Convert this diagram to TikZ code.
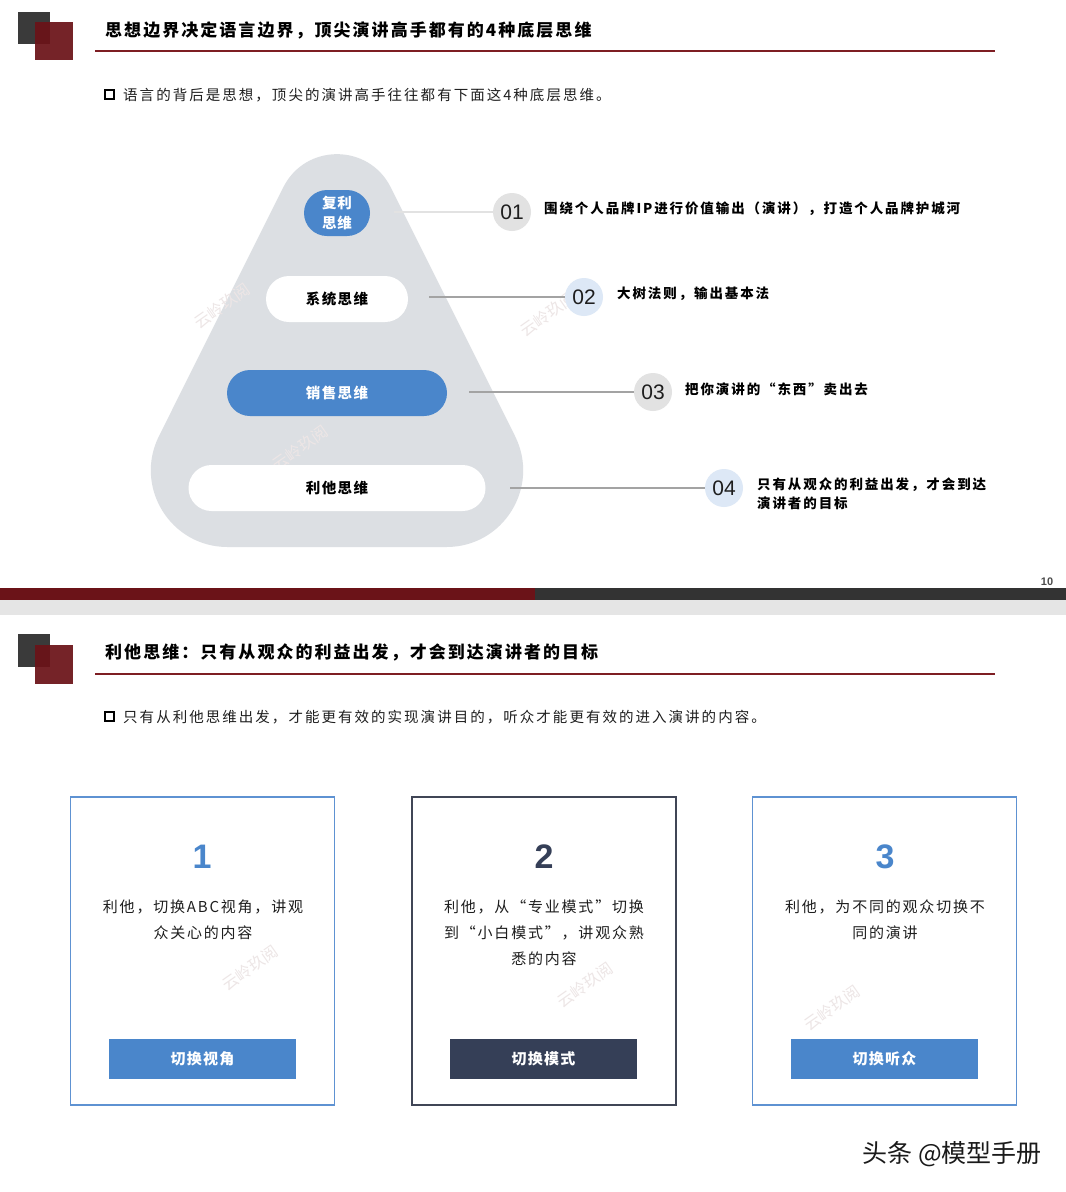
\documentclass[tikz,border=0pt]{standalone}
\usepackage{fontspec}
\setmainfont{Noto Sans CJK SC}
\newfontfamily\arial{Liberation Sans}
\definecolor{dgrey}{HTML}{3A3A3A}
\definecolor{dred}{HTML}{6B1318}
\definecolor{lred}{HTML}{7E1E23}
\definecolor{pyr}{HTML}{DCDFE3}
\definecolor{bblue}{HTML}{4A86CB}
\definecolor{navy}{HTML}{353F57}
\definecolor{lgcirc}{HTML}{E2E2E2}
\definecolor{lbcirc}{HTML}{DDE8F6}
\definecolor{conn}{HTML}{A3A3A3}
\definecolor{txt}{HTML}{1E1E1E}
\definecolor{wm}{HTML}{EDE6E6}
\definecolor{barg}{HTML}{333333}
\definecolor{band}{HTML}{E5E5E5}
\definecolor{cblue}{HTML}{5E92D2}
\definecolor{cdark}{HTML}{404656}
\definecolor{ftc}{HTML}{1A1A1A}
\tikzset{
  titletext/.style={anchor=west, inner sep=0pt, text=black,
    font=\fontsize{17}{20}\selectfont\bfseries\addfontfeatures{LetterSpace=12}},
  subtext/.style={anchor=west, inner sep=0pt, text=txt,
    font=\fontsize{14.5}{17}\selectfont\addfontfeatures{LetterSpace=14}},
  pillbox/.style={rectangle, rounded corners=23, minimum height=46, inner sep=0pt,
    font=\fontsize{14.5}{18}\selectfont\bfseries\addfontfeatures{LetterSpace=10}},
  numcirc/.style={circle, minimum size=38, inner sep=0pt,
    font=\arial\fontsize{21}{21}\selectfont, text=txt},
  itemtext/.style={anchor=west, inner sep=0pt, text=black, align=left,
    font=\fontsize{13.5}{19}\selectfont\bfseries\addfontfeatures{LetterSpace=14}},
  conline/.style={draw=conn, line width=1.2pt},
  card/.style={rectangle, minimum width=264, minimum height=308, line width=1.2pt},
  cardnum/.style={inner sep=0pt, font=\arial\bfseries\fontsize{34}{34}\selectfont},
  cardtext/.style={inner sep=0pt, align=center, text=txt,
    font=\fontsize{15}{26}\selectfont\addfontfeatures{LetterSpace=12}},
  btn/.style={rectangle, minimum width=187, minimum height=40, inner sep=0pt, text=white,
    font=\fontsize{15}{18}\selectfont\bfseries\addfontfeatures{LetterSpace=8}},
  wmark/.style={inner sep=0pt, text=wm, rotate=35, font=\fontsize{16}{16}\selectfont}
}
\begin{document}
\begin{tikzpicture}[x=1pt,y=-1pt]
\useasboundingbox (0,0) rectangle (1066,1192);
\fill[white] (0,0) rectangle (1066,1192);

% ---------- top slide header ----------
\fill[dgrey] (18,12) rectangle (50,44);
\fill[dred,opacity=0.93] (35,22) rectangle (73,60);
\node[titletext] (t1) at (105,30) {思想边界决定语言边界，顶尖演讲高手都有的4种底层思维};
\draw[lred,line width=2.6pt] (95,51) -- (995,51);
\draw[black,line width=1.6pt] (105,90) rectangle (114,99);
\node[subtext] (s1) at (123,95) {语言的背后是思想，顶尖的演讲高手往往都有下面这4种底层思维。};

% ---------- pyramid ----------
\fill[pyr] (227.5,547) -- (446.5,547)
  .. controls (503.5,547) and (540.5,487) .. (515,436)
  -- (390.7,187.3)
  .. controls (368.6,143.1) and (305.4,143.1) .. (283.3,187.3)
  -- (159,436)
  .. controls (133.5,487) and (170.5,547) .. (227.5,547) -- cycle;

% watermarks
\node[wmark] (w1) at (222,306) {云岭玖阅};
\node[wmark] (w2) at (548,314) {云岭玖阅};
\node[wmark] (w3) at (300,448) {云岭玖阅};

\node[pillbox, fill=bblue, text=white, minimum width=66, align=center,
  font=\fontsize{14.5}{20}\selectfont\bfseries\addfontfeatures{LetterSpace=6}] (p1) at (337,213) {复利\\思维};
\node[pillbox, fill=white, text=black, minimum width=142] (p2) at (337,299) {系统思维};
\node[pillbox, fill=bblue, text=white, minimum width=220] (p3) at (337,393) {销售思维};
\node[pillbox, fill=white, text=black, minimum width=297] (p4) at (337,488) {利他思维};

\coordinate (a1) at (394,212);
\coordinate (a2) at (429,297);
\coordinate (a3) at (469,392);
\coordinate (a4) at (510,488);

\node[numcirc, fill=lgcirc] (c1) at (512,212) {01};
\node[numcirc, fill=lbcirc] (c2) at (584,297) {02};
\node[numcirc, fill=lgcirc] (c3) at (653,392) {03};
\node[numcirc, fill=lbcirc] (c4) at (724,488) {04};

\draw[draw=lgcirc, line width=1.2pt] (a1) -- (c1);
\draw[conline] (a2) -- (c2);
\draw[conline] (a3) -- (c3);
\draw[conline] (a4) -- (c4);

\node[itemtext] (i1) at (544,209) {围绕个人品牌IP进行价值输出（演讲），打造个人品牌护城河};
\node[itemtext] (i2) at (617,294) {大树法则，输出基本法};
\node[itemtext] (i3) at (685,389) {把你演讲的“东西”卖出去};
\node[itemtext] (i4) at (757,494) {只有从观众的利益出发，才会到达\\演讲者的目标};

% ---------- divider ----------
\node[inner sep=0pt, text=black!70, font=\arial\bfseries\fontsize{11}{11}\selectfont] (pg) at (1047,582) {10};
\fill[dred] (0,588) rectangle (535,600);
\fill[barg] (535,588) rectangle (1066,600);
\fill[band] (0,600) rectangle (1066,615);

% ---------- second slide header ----------
\fill[dgrey] (18,634) rectangle (50,667);
\fill[dred,opacity=0.93] (35,645) rectangle (73,684);
\node[titletext] (t2) at (105,652) {利他思维：只有从观众的利益出发，才会到达演讲者的目标};
\draw[lred,line width=2.6pt] (95,674) -- (995,674);
\draw[black,line width=1.6pt] (105,712) rectangle (114,721);
\node[subtext] (s2) at (123,717) {只有从利他思维出发，才能更有效的实现演讲目的，听众才能更有效的进入演讲的内容。};

% ---------- cards ----------
\node[card, draw=cblue] (k1) at (202.5,951) {};
\node[card, draw=cdark] (k2) at (544,951) {};
\node[card, draw=cblue] (k3) at (884.5,951) {};

\node[wmark] (w4) at (250,968) {云岭玖阅};
\node[wmark] (w5) at (585,985) {云岭玖阅};
\node[wmark] (w6) at (832,1008) {云岭玖阅};

\node[cardnum, text=bblue] (n1) at (202,857) {1};
\node[cardnum, text=navy] (n2) at (544,857) {2};
\node[cardnum, text=bblue] (n3) at (885,857) {3};

\node[cardtext, anchor=north] (d1) at (203,900) {利他，切换ABC视角，讲观\\众关心的内容};
\node[cardtext, anchor=north] (d2) at (544,900) {利他，从“专业模式”切换\\到“小白模式”，讲观众熟\\悉的内容};
\node[cardtext, anchor=north] (d3) at (885,900) {利他，为不同的观众切换不\\同的演讲};

\node[btn, fill=bblue] (b1) at (202.5,1059) {切换视角};
\node[btn, fill=navy] (b2) at (543.5,1059) {切换模式};
\node[btn, fill=bblue] (b3) at (884.5,1059) {切换听众};

% ---------- footer watermark ----------
\node[anchor=east, inner sep=0pt, text=ftc, font=\fontsize{25}{25}\selectfont] (ft) at (1042,1154) {头条 @模型手册};
\end{tikzpicture}
\end{document}
